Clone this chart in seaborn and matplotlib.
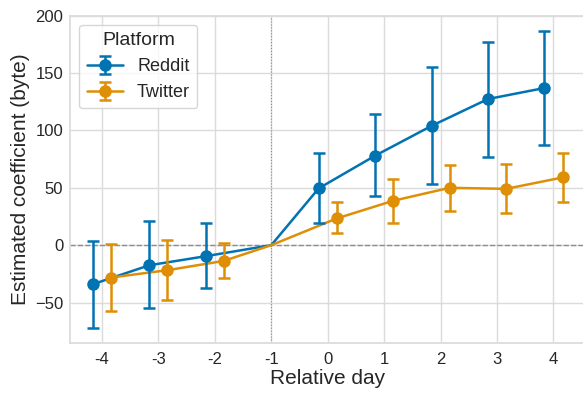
import numpy as np
import pandas as pd
import matplotlib
matplotlib.use("Agg")
import matplotlib.pyplot as plt
import seaborn as sns

# Event-study estimates relative to the reference day (-1), per platform
days = [-4, -3, -2, -1, 0, 1, 2, 3, 4]
day_labels = ["-4", "-3", "-2", "-1", "0", "1", "2", "3", "4"]
platforms = ["Reddit", "Twitter"]

reddit_coef = [-34, -17.5, -9.6, 0, 49.5, 78, 104, 127.4, 137]
reddit_lo = [-72, -55, -37, 0, 19, 42.8, 53.5, 77, 87.3]
reddit_hi = [4, 21, 19, 0, 80, 114.3, 155.3, 177.4, 187]

twitter_coef = [-28.2, -21.8, -13.7, 0, 23.3, 38.7, 50, 49.1, 59]
twitter_lo = [-57.3, -48, -28.8, 0, 10.2, 19.2, 30, 28.2, 37.8]
twitter_hi = [1, 4.4, 2, 0, 37.3, 57.9, 70, 70.4, 80]

ref_day = -1
dodge = 0.16

frames = []
for name, coef, lo, hi in [
    ("Reddit", reddit_coef, reddit_lo, reddit_hi),
    ("Twitter", twitter_coef, twitter_lo, twitter_hi),
]:
    frames.append(pd.DataFrame({"day": days, "Platform": name,
                                "coef": coef, "lo": lo, "hi": hi}))
df = pd.concat(frames, ignore_index=True)
offsets = {"Reddit": -dodge, "Twitter": dodge}
df["x"] = df["day"] + np.where(df["day"] == ref_day, 0.0,
                               df["Platform"].map(offsets))
df["is_ref"] = df["day"] == ref_day

sns.set_theme(style="whitegrid",
              rc={"grid.color": "0.86", "axes.edgecolor": "0.86"})
plt.rcParams["font.family"] = ["Liberation Sans", "DejaVu Sans"]
palette = dict(zip(platforms, sns.color_palette("colorblind", 2)))

fig = plt.figure(figsize=(5.83, 3.93), dpi=100)
ax = fig.add_axes([0.1206, 0.128, 0.883, 0.832])

# reference lines
ax.axhline(0, color="0.55", ls="--", lw=1.0, zorder=1)
ax.axvline(ref_day, color="0.55", ls=":", lw=0.8, zorder=1)

# connecting lines through the reference day
sns.lineplot(data=df, x="x", y="coef", hue="Platform", palette=palette,
             lw=1.8, legend=False, sort=True, ax=ax, zorder=3)

# point estimates with confidence intervals (reference day has none)
for name in platforms:
    sub = df[(df["Platform"] == name) & (~df["is_ref"])]
    yerr = np.vstack([sub["coef"] - sub["lo"], sub["hi"] - sub["coef"]])
    ax.errorbar(sub["x"], sub["coef"], yerr=yerr, fmt="o",
                color=palette[name], ms=8, elinewidth=1.8, capsize=4,
                capthick=1.8, zorder=4)
    # legend proxy with line + marker + error bar
    ax.errorbar([np.nan], [np.nan], yerr=[[np.nan], [np.nan]], fmt="-o",
                color=palette[name], ms=8, lw=1.8, elinewidth=1.8,
                capsize=4, capthick=1.8, label=name)

ax.set_xlim(-4.56, 4.56)
ax.set_ylim(-85, 200)
ax.set_xticks(days)
ax.set_xticklabels(day_labels)
ax.set_yticks([-50, 0, 50, 100, 150, 200])
ax.tick_params(axis="both", labelsize=12, colors="0.15", length=0)
ax.tick_params(axis="x", pad=6.8)
ax.tick_params(axis="y", pad=5)
ax.set_xlabel("Relative day", fontsize=15, color="0.15", labelpad=1.5)
ax.set_ylabel("Estimated coefficient (byte)", fontsize=15, color="0.15",
              labelpad=4)

leg = ax.legend(title="Platform", loc="upper left", fontsize=13,
                title_fontsize=14, frameon=True)

fig.savefig("out.png", dpi=100)
